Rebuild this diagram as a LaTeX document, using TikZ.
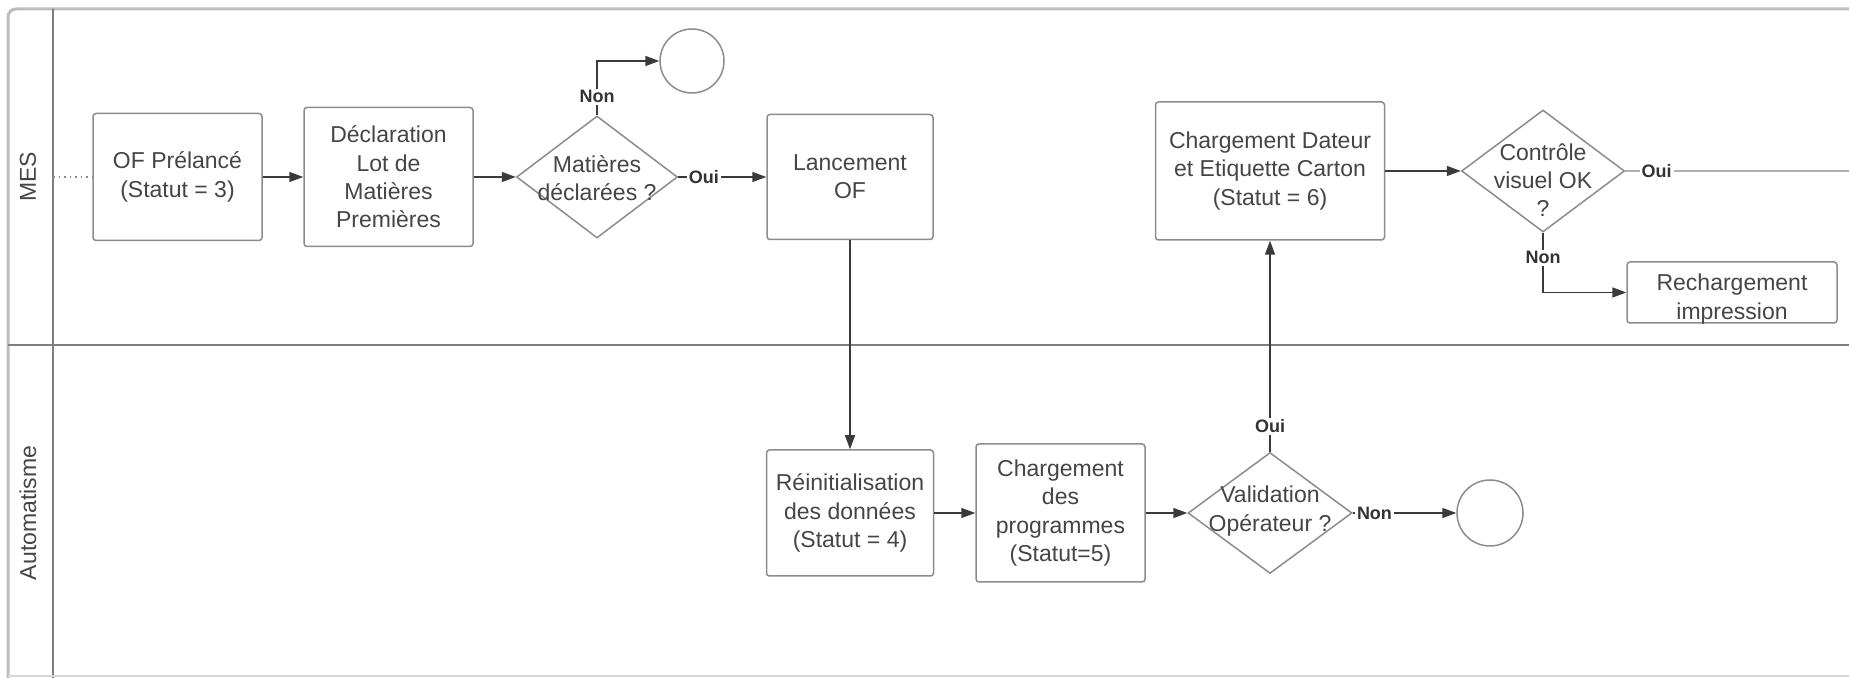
\documentclass[tikz,border=0pt]{standalone}
\usepackage{fontspec}
\setmainfont{Liberation Sans}
\usetikzlibrary{shapes.geometric,arrows.meta}
\definecolor{txt}{HTML}{454545}
\definecolor{boxc}{HTML}{8C8C8C}
\definecolor{arrc}{HTML}{3A3A3A}
\definecolor{lanec}{HTML}{7E7E7E}
\definecolor{topc}{HTML}{BDBDBD}
\definecolor{lblc}{HTML}{333333}
\definecolor{faint}{HTML}{B0B0B0}
\begin{document}
\begin{tikzpicture}[x=0.5pt,y=-0.5pt,
  box/.style={draw=boxc, line width=0.75pt, rounded corners=1.5pt, align=center, text=txt,
    font=\fontsize{11.5}{14.15}\selectfont, inner sep=0pt, fill=white},
  dia/.style={diamond, draw=boxc, line width=0.75pt, inner sep=0pt, fill=white},
  dtext/.style={align=center, text=txt, font=\fontsize{11.5}{14.15}\selectfont, inner sep=0pt},
  endc/.style={circle, draw=boxc, line width=0.75pt, inner sep=0pt},
  lanetxt/.style={rotate=90, text=txt, font=\fontsize{11.5}{14}\selectfont},
  lbl/.style={font=\bfseries\fontsize{9}{10}\selectfont, text=lblc, fill=white, inner sep=1pt},
  arr/.style={draw=arrc, line width=0.75pt, -{Triangle[length=7pt,width=5pt]}},
  plain/.style={draw=arrc, line width=0.75pt}
]
\useasboundingbox (0,0) rectangle (1849,678);
\fill[white] (0,0) rectangle (1849,678);

% pool frame
\draw[draw=topc, line width=1.5pt, rounded corners=4pt] (1849,9) -- (8,9) -- (8,678);
\draw[draw=lanec, line width=0.8pt] (53,9) -- (53,678);
\draw[draw=lanec, line width=0.8pt] (8,345) -- (1849,345);
\draw[draw=topc!60, line width=0.8pt] (8,676) -- (1849,676);

% lane labels
\node[lanetxt] (mes) at (28,177) {MES};
\node[lanetxt] (auto) at (28,513) {Automatisme};

% nodes
\node[box, minimum width=84.5pt, minimum height=63.5pt] (of) at (177.5,177) {OF Prélancé\\(Statut = 3)};
\node[box, minimum width=84.5pt, minimum height=69.5pt] (decl) at (388.5,177) {Déclaration\\Lot de\\Matières\\Premières};
\node[dia, minimum width=80.5pt, minimum height=61pt] (mat) at (597,177) {};
\node[dtext] (matT) at (597,178) {Matières\\déclarées ?};
\node[endc, minimum size=32pt] (c1) at (692,61) {};
\node[box, minimum width=83pt, minimum height=62.5pt] (lanc) at (850,177) {Lancement\\OF};
\node[box, minimum width=83.5pt, minimum height=63pt] (reinit) at (850,513) {Réinitialisation\\des données\\(Statut = 4)};
\node[box, minimum width=84.5pt, minimum height=69pt] (prog) at (1060.5,513) {Chargement\\des\\programmes\\(Statut=5)};
\node[dia, minimum width=82pt, minimum height=60.5pt] (valid) at (1270,513) {};
\node[dtext] (validT) at (1270,511) {Validation\\Opérateur ?};
\node[endc, minimum size=33pt] (c2) at (1490,513) {};
\node[box, minimum width=114.5pt, minimum height=69pt] (dateur) at (1270,171) {Chargement Dateur\\et Etiquette Carton\\(Statut = 6)};
\node[dia, minimum width=81.5pt, minimum height=61pt] (ctrl) at (1543,171) {};
\node[dtext] (ctrlT) at (1543,180) {Contrôle\\visuel OK\\?};
\node[box, minimum width=105pt, minimum height=30.5pt] (rech) at (1732,292.5) {};
\node[dtext] (rechT) at (1732,299) {Rechargement\\impression};

\coordinate (start) at (53,177);
\coordinate (rend) at (1849,171);

% connectors
\draw[draw=boxc, line width=0.75pt, dotted] (start) -- (of.west);
\draw[arr] (of.east) -- (decl.west);
\draw[arr] (decl.east) -- (mat.west);
\draw[arr] (mat.north) |- node[lbl, pos=0.17] {Non} (c1.west);
\draw[arr] (mat.east) -- node[lbl, pos=0.29] {Oui} (lanc.west);
\draw[arr] (lanc.south) -- (reinit.north);
\draw[arr] (reinit.east) -- (prog.west);
\draw[arr] (prog.east) -- (valid.west);
\draw[arr] (valid.east) -- node[lbl, pos=0.21] {Non} (c2.west);
\draw[arr] (valid.north) -- node[lbl, pos=0.12] {Oui} (dateur.south);
\draw[arr] (dateur.east) -- (ctrl.west);
\draw[draw=faint, line width=0.6pt] (ctrl.east) -- node[lbl, pos=0.14] {Oui} (rend);
\draw[arr] (ctrl.south) |- node[lbl, pos=0.21] {Non} (rech.west);
\end{tikzpicture}
\end{document}
